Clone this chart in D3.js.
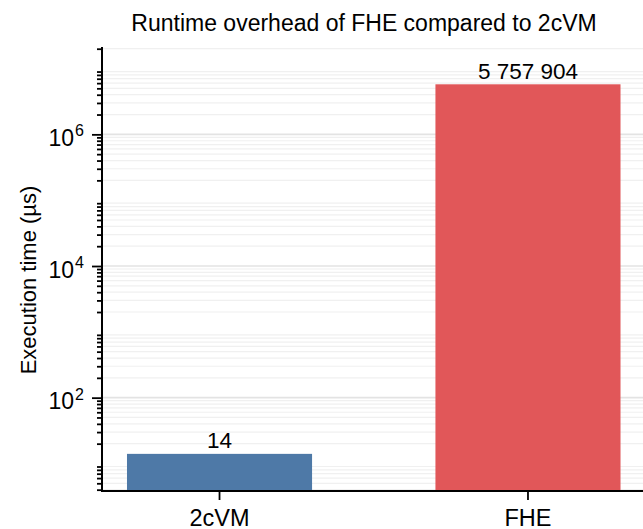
<!DOCTYPE html>
<html>
<head>
<meta charset="utf-8">
<script src="https://cdn.jsdelivr.net/npm/d3@7"></script>
<style>
  html, body { margin: 0; padding: 0; background: #fff; }
  svg { display: block; font-family: "Liberation Sans", Arial, Helvetica, sans-serif; }
</style>
</head>
<body>
<svg id="chart" width="643" height="529"></svg>
<script>
// ---- data ----
const categories = ["2cVM", "FHE"];
const values = [14, 5757904];
const valueLabels = ["14", "5 757 904"];
const colors = ["#4e79a7", "#e15759"];
const majorTicks = [1e2, 1e4, 1e6];
const majorExponents = ["2", "4", "6"];
const minorMantissas = [2, 3, 4, 5, 6, 7, 8, 9];
const title = "Runtime overhead of FHE compared to 2cVM";
const yTitle = "Execution time (µs)";

// ---- layout ----
const W = 643, H = 529;
const plot = { left: 102, right: 645.5, top: 47, bottom: 491 };

const svg = d3.select("#chart");

const y = d3.scaleLog()
  .domain([Math.pow(10, 0.582), Math.pow(10, 7.327)])
  .range([plot.bottom, plot.top]);

const x = d3.scaleBand()
  .domain(categories)
  .range([plot.left, plot.right])
  .paddingInner(0.4)
  .paddingOuter(0.081);

// minor tick values
const [d0, d1] = y.domain();
const minorTicks = [];
for (let e = Math.floor(Math.log10(d0)); e <= Math.ceil(Math.log10(d1)); e++) {
  minorMantissas.forEach(m => {
    const v = m * Math.pow(10, e);
    if (v >= d0 && v <= d1) minorTicks.push(v);
  });
}

// clip
svg.append("clipPath").attr("id", "clip")
  .append("rect").attr("x", plot.left).attr("y", plot.top)
  .attr("width", W - plot.left).attr("height", plot.bottom - plot.top);

const gridG = svg.append("g").attr("clip-path", "url(#clip)");
gridG.selectAll("line.minor").data(minorTicks).join("line")
  .attr("class", "minor")
  .attr("x1", plot.left).attr("x2", W)
  .attr("y1", d => y(d)).attr("y2", d => y(d))
  .attr("stroke", "#f0f0f0").attr("stroke-width", 1.2);
gridG.selectAll("line.major").data(majorTicks).join("line")
  .attr("class", "major")
  .attr("x1", plot.left).attr("x2", W)
  .attr("y1", d => y(d)).attr("y2", d => y(d))
  .attr("stroke", "#e3e3e3").attr("stroke-width", 1.6);

// bars
const barsG = svg.append("g").attr("clip-path", "url(#clip)");
barsG.selectAll("rect").data(categories).join("rect")
  .attr("x", (d) => x(d) + x.bandwidth() / 2 - x.step() * 0.3)
  .attr("width", x.step() * 0.6)
  .attr("y", (d, i) => y(values[i]))
  .attr("height", (d, i) => plot.bottom - y(values[i]))
  .attr("fill", (d, i) => colors[i]);

// value labels
svg.append("g").selectAll("text").data(categories).join("text")
  .attr("x", d => x(d) + x.bandwidth() / 2)
  .attr("y", (d, i) => y(values[i]) - 5.5)
  .attr("text-anchor", "middle")
  .attr("font-size", 22.5)
  .attr("fill", "#000")
  .text((d, i) => valueLabels[i]);

// y axis minor ticks
const yMinor = svg.append("g").attr("transform", `translate(${plot.left},0)`)
  .call(d3.axisLeft(y).tickValues(minorTicks).tickSize(5).tickFormat(""));
yMinor.select(".domain").remove();
yMinor.selectAll(".tick line").attr("stroke", "#000").attr("stroke-width", 1.8);

// y axis major ticks
const yMajor = svg.append("g").attr("transform", `translate(${plot.left},0)`)
  .call(d3.axisLeft(y).tickValues(majorTicks).tickSize(10).tickSizeOuter(0).tickFormat(""));
yMajor.select(".domain").attr("stroke", "#000").attr("stroke-width", 2)
  .attr("d", `M0,${plot.top}V${plot.bottom + 1}`);
yMajor.selectAll(".tick line").attr("stroke", "#000").attr("stroke-width", 1.8);
yMajor.selectAll(".tick text").remove();
yMajor.selectAll(".tick").each(function(d, i) {
  const t = d3.select(this).append("text")
    .attr("x", -18).attr("y", 11)
    .attr("text-anchor", "end")
    .attr("fill", "#000")
    .attr("font-size", 23);
  t.append("tspan").text("10");
  t.append("tspan").attr("font-size", 16).attr("dy", -9.5).attr("dx", 1).text(majorExponents[i]);
});

// x axis
const xAxis = svg.append("g").attr("transform", `translate(0,${plot.bottom})`)
  .call(d3.axisBottom(x).tickSize(9).tickSizeOuter(0).tickPadding(9));
xAxis.select(".domain").attr("stroke", "#000").attr("stroke-width", 2)
  .attr("d", `M${plot.left - 1},0H${W}`);
xAxis.selectAll(".tick line").attr("stroke", "#000").attr("stroke-width", 1.8);
xAxis.selectAll(".tick text").attr("font-size", 23.5).attr("fill", "#000")
  .attr("font-family", "Liberation Sans, Arial, sans-serif")
  .attr("dy", "0.71em");

// title
svg.append("text")
  .attr("x", 364).attr("y", 31)
  .attr("text-anchor", "middle")
  .attr("font-size", 23)
  .attr("fill", "#000")
  .text(title);

// y title
svg.append("text")
  .attr("transform", `translate(36,280) rotate(-90)`)
  .attr("text-anchor", "middle")
  .attr("font-size", 22)
  .attr("fill", "#000")
  .text(yTitle);
</script>
</body>
</html>
